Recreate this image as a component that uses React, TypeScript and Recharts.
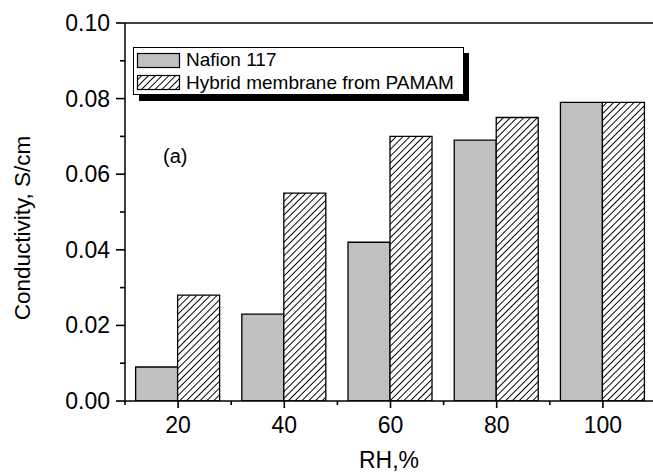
import { BarChart, Bar, XAxis, YAxis, ReferenceLine, Legend, Label } from "recharts";

const FONT = "Arial, 'Liberation Sans', Helvetica, sans-serif";

// relative humidity (%) and conductivity (S/cm) per membrane
const rh = [20, 40, 60, 80, 100];
const nafion = [0.009, 0.023, 0.042, 0.069, 0.079];
const hybrid = [0.028, 0.055, 0.07, 0.075, 0.079];

const xTicks = [10, 20, 30, 40, 50, 60, 70, 80, 90, 100, 110];
const xMajor = [20, 40, 60, 80, 100];
const yTicks = [0, 0.01, 0.02, 0.03, 0.04, 0.05, 0.06, 0.07, 0.08, 0.09, 0.1];
const yMajor = ["0.00", "0.02", "0.04", "0.06", "0.08", "0.10"];

const series = [
  { key: "nafion", name: "Nafion 117", fill: "#c0c0c0" },
  { key: "hybrid", name: "Hybrid membrane from PAMAM", fill: "url(#hatch)" },
];

const data = rh.map((x, i) => ({ rh: x, nafion: nafion[i], hybrid: hybrid[i] }));

function HatchPattern({ id }: { id: string }) {
  return (
    <pattern id={id} patternUnits="userSpaceOnUse" width={4.8} height={4.8} patternTransform="rotate(45)">
      <rect width={4.8} height={4.8} fill="#fff" />
      <line x1={2.4} y1={0} x2={2.4} y2={4.8} stroke="#000" strokeWidth={1} />
    </pattern>
  );
}

// outward tick marks: long + label for majors, short for minors
function XTick(props: any) {
  const x = Number(props.x);
  const y = Number(props.y);
  const major = xMajor.includes(props.payload.value);
  return (
    <g>
      <rect x={x - 0.8} y={y} width={1.6} height={major ? 7 : 4} fill="#000" />
      {major && (
        <text x={x} y={y + 32} textAnchor="middle" fontSize={23} fill="#000" fontFamily={FONT}>
          {props.payload.value}
        </text>
      )}
    </g>
  );
}

function YTick(props: any) {
  const x = Number(props.x);
  const y = Number(props.y);
  const label = Number(props.payload.value).toFixed(2);
  const major = yMajor.includes(label);
  const len = major ? 9 : 5;
  return (
    <g>
      <rect x={x - len} y={y - 0.8} width={len} height={1.6} fill="#000" />
      {major && (
        <text x={x - 15} y={y + 8} textAnchor="end" fontSize={23} fill="#000" fontFamily={FONT}>
          {label}
        </text>
      )}
    </g>
  );
}

function BoxLegend() {
  return (
    <svg width={345} height={60} style={{ display: "block" }}>
      <defs>
        <HatchPattern id="hatch-legend" />
      </defs>
      <rect x={6} y={6} width={330} height={48} fill="#000" />
      <rect x={0.5} y={0.5} width={330} height={47} fill="#fff" stroke="#000" strokeWidth={1} />
      {series.map((s, i) => (
        <g key={s.key}>
          <rect
            x={4.5}
            y={6.5 + i * 22}
            width={42}
            height={14}
            fill={s.key === "hybrid" ? "url(#hatch-legend)" : s.fill}
            stroke="#000"
            strokeWidth={1.2}
          />
          <text x={53} y={19 + i * 23} fontSize={19} fill="#000" fontFamily={FONT}>
            {s.name}
          </text>
        </g>
      ))}
    </svg>
  );
}

export default function App() {
  return (
    <div style={{ position: "absolute", left: 0, top: 0, width: 653, height: 472, overflow: "hidden", background: "#fff" }}>
      <BarChart
        width={660}
        height={472}
        data={data}
        margin={{ top: 23, right: 4, bottom: 0, left: 0 }}
        barGap={0}
        barCategoryGap="10%"
      >
        <defs>
          <HatchPattern id="hatch" />
        </defs>
        <XAxis
          dataKey="rh"
          type="number"
          domain={[10, 110]}
          ticks={xTicks}
          interval={0}
          tickSize={0}
          tickMargin={0}
          tickLine={false}
          tick={<XTick />}
          axisLine={{ stroke: "#000", strokeWidth: 1.5 }}
          height={71}
          allowDataOverflow
        >
          <Label
            content={() => (
              <text x={389} y={468} textAnchor="middle" fontSize={23} fill="#000" fontFamily={FONT}>
                RH,%
              </text>
            )}
          />
        </XAxis>
        <YAxis
          type="number"
          domain={[0, 0.1]}
          ticks={yTicks}
          interval={0}
          tickSize={0}
          tickMargin={0}
          tickLine={false}
          tick={<YTick />}
          axisLine={{ stroke: "#000", strokeWidth: 1.5 }}
          width={125}
          allowDataOverflow
        >
          <Label
            content={() => (
              <text
                transform="translate(30,228) rotate(-90)"
                textAnchor="middle"
                fontSize={22.5}
                fill="#000"
                fontFamily={FONT}
              >
                Conductivity, S/cm
              </text>
            )}
          />
        </YAxis>
        <ReferenceLine y={0.1} stroke="#000" strokeWidth={1.5} />
        <Legend
          layout="vertical"
          align="center"
          verticalAlign="middle"
          content={<BoxLegend />}
          wrapperStyle={{ left: 133, top: 47, width: 345, height: 60 }}
        />
        {series.map((s) => (
          <Bar
            key={s.key}
            dataKey={s.key}
            name={s.name}
            fill={s.fill}
            stroke="#000"
            strokeWidth={1.3}
            isAnimationActive={false}
          />
        ))}
      </BarChart>
      <div
        style={{
          position: "absolute",
          left: 163,
          top: 145,
          fontSize: 20,
          fontFamily: FONT,
          lineHeight: "23px",
          color: "#000",
        }}
      >
        (a)
      </div>
    </div>
  );
}
